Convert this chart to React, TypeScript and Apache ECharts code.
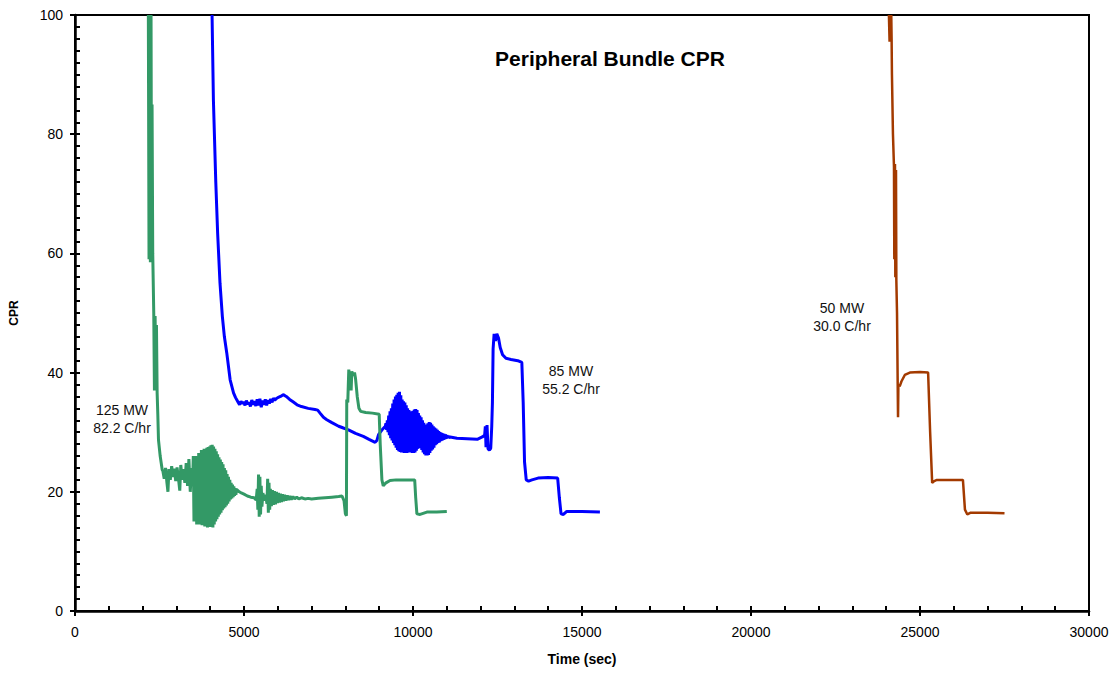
import React, { useEffect, useRef } from 'react';
import * as echarts from 'echarts';

const FONT = '"Liberation Sans", Arial, Helvetica, sans-serif';

const TITLE = 'Peripheral Bundle CPR';
const X_NAME = 'Time (sec)';
const Y_NAME = 'CPR';
const X_TICK_LABELS = [0, 5000, 10000, 15000, 20000, 25000, 30000];
const Y_TICK_LABELS = [0, 20, 40, 60, 80, 100];

const SERIES_NAMES = ['125 MW 82.2 C/hr', '85 MW 55.2 C/hr', '50 MW 30.0 C/hr'];
const SERIES_COLORS = ['#339966', '#0000FF', '#A33A00'];

// 125 MW, 82.2 C/hr  [time (s), CPR]
const green125: [number, number][] = [
  [2170, 100], [2190, 59], [2210, 100], [2230, 58.5], [2250, 100], [2265, 62], [2280, 85], [2300, 60],
  [2330, 50], [2350, 37], [2370, 49.5], [2390, 38], [2410, 48], [2430, 36.6], [2450, 33], [2470, 28.7],
  [2520, 26], [2580, 23.7],
  [2600, 23.5], [2640, 22.2], [2680, 24.0], [2720, 21.5], [2750, 20.0], [2780, 23.8], [2820, 22.0],
  [2860, 24.3], [2900, 22.5], [2940, 23.9], [2980, 21.8], [3020, 24.1], [3060, 22.3], [3100, 20.2],
  [3130, 24.5], [3170, 22.0], [3210, 23.8], [3250, 21.5], [3290, 24.8], [3330, 21.0], [3370, 25.5],
  [3410, 20.0], [3450, 24.0], [3480, 21.5],
  [3500, 26.0], [3520, 15.0], [3540, 25.0], [3560, 17.0], [3580, 26.0], [3600, 14.5], [3620, 26.0],
  [3640, 16.5], [3660, 26.5], [3680, 14.5], [3700, 26.5], [3720, 15.5], [3740, 27.0], [3760, 14.4],
  [3780, 26.8], [3800, 15.0], [3820, 27.2], [3840, 14.2], [3860, 27.0], [3880, 14.8], [3900, 27.4],
  [3920, 14.0], [3940, 27.5], [3960, 14.5], [3980, 27.6], [4000, 14.1], [4020, 27.8], [4040, 14.4],
  [4060, 27.9], [4080, 14.0], [4100, 27.6], [4120, 14.5], [4140, 27.2], [4160, 15.0], [4180, 26.8],
  [4200, 15.4], [4220, 26.3], [4240, 15.8], [4260, 25.8], [4280, 16.2], [4300, 25.4], [4320, 16.5],
  [4340, 25.0], [4360, 16.9], [4380, 24.6], [4400, 17.2], [4420, 24.0], [4440, 17.4], [4460, 23.6],
  [4480, 17.7], [4500, 23.0], [4520, 18.0], [4540, 22.5], [4560, 18.4], [4580, 22.0], [4600, 18.7],
  [4620, 21.5], [4640, 18.9], [4660, 21.2], [4680, 19.1], [4700, 20.9], [4720, 19.3], [4740, 20.6],
  [4760, 19.5], [4780, 20.4],
  [4820, 20.2], [4860, 20.0], [4920, 19.8], [5000, 19.6], [5100, 19.3], [5200, 19.1], [5300, 19.0],
  [5360, 18.6], [5390, 20.5], [5410, 17.0], [5430, 22.9], [5450, 15.8], [5470, 22.5], [5490, 16.2],
  [5510, 21.0], [5530, 17.5], [5560, 19.8], [5600, 18.5], [5640, 19.5], [5680, 18.0], [5700, 22.2],
  [5720, 16.5], [5740, 21.5], [5760, 17.0], [5780, 20.5], [5810, 17.6], [5840, 20.3], [5870, 17.8],
  [5900, 20.1], [5930, 17.9], [5960, 20.0], [5990, 18.1], [6020, 19.8], [6050, 18.2], [6080, 19.7],
  [6110, 18.3], [6140, 19.6], [6170, 18.4], [6200, 19.5], [6240, 18.5], [6280, 19.4], [6320, 18.6],
  [6360, 19.3], [6400, 18.7], [6450, 19.2], [6500, 18.8], [6560, 19.1], [6620, 18.8], [6700, 19.0],
  [6800, 18.8], [6900, 18.9], [7000, 18.8], [7200, 18.9], [7400, 19.0], [7600, 19.1], [7800, 19.2],
  [7900, 19.3], [7960, 18.5], [8000, 16.3], [8030, 16.0], [8040, 35.5], [8070, 35.0], [8100, 40.5],
  [8140, 39.0], [8170, 37.0], [8190, 40.2], [8230, 39.5], [8270, 40.0], [8300, 39.0], [8350, 36.0],
  [8400, 34.0], [8450, 33.5], [8600, 33.3], [8800, 33.2], [9000, 33.0], [9030, 28.0], [9080, 22.0],
  [9120, 21.0], [9200, 21.5], [9320, 21.9], [9500, 22.0], [9800, 22.0], [10050, 22.0], [10080, 19.0],
  [10115, 16.3], [10210, 16.2], [10410, 16.6], [10700, 16.6], [11000, 16.7],
];

// 85 MW, 55.2 C/hr
const blue85: [number, number][] = [
  [4055, 100], [4095, 85.7], [4165, 72], [4220, 63.4], [4290, 55], [4360, 49.4], [4420, 46],
  [4490, 43.3], [4590, 38.8], [4690, 36.6], [4750, 35.8],
  [4790, 35.4], [4830, 35.0], [4870, 34.6], [4910, 35.2], [4950, 34.8], [4990, 35.1], [5030, 34.5],
  [5070, 35.3], [5110, 34.7], [5150, 35.0], [5190, 34.3], [5230, 35.4], [5270, 34.6], [5310, 35.2],
  [5350, 34.4], [5390, 35.5], [5430, 34.5], [5470, 35.6], [5510, 34.2], [5550, 35.3], [5590, 34.6],
  [5630, 35.5], [5670, 34.5], [5710, 35.4], [5750, 34.8], [5790, 35.6], [5830, 35.0], [5870, 35.7],
  [5910, 35.4], [5950, 35.6], [6000, 35.8], [6080, 36.0], [6160, 36.3], [6250, 36.0], [6350, 35.5],
  [6450, 35.1], [6570, 34.6], [6700, 34.3], [6900, 34.0], [7100, 33.8], [7180, 33.7], [7250, 33.2],
  [7350, 32.5], [7450, 32.1], [7600, 31.6], [7800, 31.0], [7940, 30.7], [8090, 30.4], [8300, 29.8],
  [8530, 29.3], [8700, 28.8], [8880, 28.3], [8930, 28.6], [8980, 29.6], [9100, 30.5], [9180, 31.0],
  [9200, 31.5], [9220, 30.4], [9240, 32.0], [9260, 30.0], [9280, 32.8], [9300, 29.5], [9320, 33.5],
  [9340, 29.0], [9360, 34.0], [9380, 28.6], [9400, 34.8], [9420, 28.2], [9440, 35.5], [9460, 27.8],
  [9480, 36.0], [9500, 27.4], [9520, 36.3], [9540, 27.0], [9560, 36.6], [9580, 26.8], [9600, 36.8],
  [9620, 26.7], [9640, 36.2], [9660, 26.6], [9680, 35.5], [9700, 26.6], [9720, 35.2], [9740, 26.5],
  [9760, 35.0], [9780, 26.5], [9800, 34.5], [9820, 26.5], [9840, 34.0], [9860, 26.6], [9880, 33.7],
  [9900, 26.7], [9920, 33.5], [9940, 26.6], [9960, 33.4], [9980, 26.5], [10000, 33.6], [10020, 26.5],
  [10040, 33.8], [10060, 26.6], [10080, 33.9], [10100, 26.9], [10120, 33.7], [10140, 27.2],
  [10160, 33.2], [10180, 27.4], [10200, 32.8], [10220, 27.3], [10240, 32.5], [10260, 27.0],
  [10280, 32.0], [10300, 26.6], [10320, 31.6], [10340, 26.3], [10360, 31.3], [10380, 26.1],
  [10400, 31.2], [10420, 26.1], [10440, 31.5], [10460, 26.2], [10480, 31.7], [10500, 26.5],
  [10520, 31.6], [10540, 26.9], [10560, 31.3], [10580, 27.1], [10600, 31.0], [10620, 27.4],
  [10640, 30.8], [10660, 27.8], [10680, 30.6], [10700, 28.0], [10720, 30.4], [10740, 28.2],
  [10760, 30.2], [10780, 28.3], [10800, 30.0], [10820, 28.5], [10840, 29.9], [10860, 28.6],
  [10880, 29.8], [10900, 28.7], [10920, 29.7], [10940, 28.8], [10960, 29.6], [10980, 28.9],
  [11000, 29.5], [11020, 29.0], [11040, 29.4], [11060, 29.1],
  [11100, 29.2], [11300, 29.0], [11600, 28.9], [11900, 28.8], [12050, 29.2], [12120, 29.5],
  [12140, 31.0], [12160, 27.5], [12190, 31.2], [12220, 27.2], [12260, 27.0], [12300, 27.3],
  [12330, 31.0], [12350, 35.0], [12370, 44.0], [12400, 46.5], [12440, 45.3], [12480, 46.5],
  [12530, 45.8], [12580, 44.2], [12650, 43.0], [12750, 42.4], [12900, 42.2], [13100, 42.0],
  [13220, 41.7], [13260, 35.0], [13300, 25.0], [13350, 22.0], [13420, 21.8], [13520, 22.0],
  [13700, 22.3], [14000, 22.4], [14280, 22.3], [14330, 19.0], [14380, 16.3], [14450, 16.2],
  [14550, 16.7], [15000, 16.7], [15530, 16.6],
];

// 50 MW, 30.0 C/hr
const brown50: [number, number][] = [
  [24080, 100], [24100, 95.5], [24110, 100], [24130, 95.5], [24150, 100], [24160, 96], [24170, 90],
  [24200, 80], [24230, 74.5], [24240, 59], [24260, 75], [24270, 56], [24290, 74], [24300, 55.5],
  [24320, 50], [24340, 38], [24350, 32.5], [24360, 38], [24400, 37.7], [24450, 38.5], [24550, 39.6],
  [24700, 40], [25000, 40.1], [25240, 40], [25300, 30], [25360, 21.5], [25420, 21.8], [25500, 22],
  [26000, 22], [26270, 22], [26330, 17], [26400, 16.2], [26500, 16.5], [27000, 16.5], [27500, 16.4],
];

const ANNOTATIONS = [
  { text: '125 MW\n82.2 C/hr', x: 122, y: 419 },
  { text: '85 MW\n55.2 C/hr', x: 571, y: 380 },
  { text: '50 MW\n30.0 C/hr', x: 842, y: 317 },
];

export default function App() {
  const ref = useRef<HTMLDivElement>(null);

  useEffect(() => {
    if (!ref.current) return;
    const chart = echarts.init(ref.current, undefined, { renderer: 'svg' });
    const gridRect = { left: 75, top: 15, right: 30, bottom: 62 };
    const seriesData = [green125, blue85, brown50];

    const option: any = {
      animation: false,
      backgroundColor: '#ffffff',
      grid: [
        { ...gridRect, show: true, borderColor: '#000', borderWidth: 2, backgroundColor: 'transparent' },
        { ...gridRect, show: false },
      ],
      xAxis: [
        {
          gridIndex: 0,
          type: 'value',
          min: 0,
          max: 30000,
          interval: 1000,
          axisLine: { show: true, lineStyle: { color: '#000', width: 2.5 } },
          axisTick: { show: true, inside: true, length: 5, lineStyle: { color: '#000', width: 2 } },
          axisLabel: {
            margin: 14,
            color: '#000',
            fontFamily: FONT,
            fontSize: 14,
            formatter: (v: number) => (X_TICK_LABELS.includes(v) ? String(v) : ''),
          },
          splitLine: { show: false },
          name: X_NAME,
          nameLocation: 'middle',
          nameGap: 41,
          nameTextStyle: { fontFamily: FONT, fontSize: 14, fontWeight: 'bold', color: '#000' },
        },
        {
          gridIndex: 1,
          type: 'value',
          min: 0,
          max: 30000,
          interval: 5000,
          axisLine: { show: false },
          axisTick: { show: true, inside: false, length: 5, lineStyle: { color: '#000', width: 2 } },
          axisLabel: { show: false },
          splitLine: { show: false },
        },
      ],
      yAxis: [
        {
          gridIndex: 0,
          type: 'value',
          min: 0,
          max: 100,
          interval: 2,
          axisLine: { show: true, lineStyle: { color: '#000', width: 2.5 } },
          axisTick: { show: true, inside: true, length: 5, lineStyle: { color: '#000', width: 2 } },
          axisLabel: {
            margin: 12,
            color: '#000',
            fontFamily: FONT,
            fontSize: 14,
            formatter: (v: number) => (Y_TICK_LABELS.includes(v) ? String(v) : ''),
          },
          splitLine: { show: false },
          name: Y_NAME,
          nameLocation: 'middle',
          nameGap: 55,
          nameTextStyle: { fontFamily: FONT, fontSize: 12, fontWeight: 'bold', color: '#000' },
        },
        {
          gridIndex: 1,
          type: 'value',
          min: 0,
          max: 100,
          interval: 20,
          axisLine: { show: false },
          axisTick: { show: true, inside: false, length: 5, lineStyle: { color: '#000', width: 2 } },
          axisLabel: { show: false },
          splitLine: { show: false },
        },
      ],
      series: seriesData.map((data, i) => ({
        name: SERIES_NAMES[i],
        type: 'line',
        xAxisIndex: 0,
        yAxisIndex: 0,
        data,
        showSymbol: false,
        symbol: 'none',
        clip: true,
        lineStyle: { color: SERIES_COLORS[i], width: i === 2 ? 2.5 : 3 },
        itemStyle: { color: SERIES_COLORS[i] },
        z: 3 - i,
      })),
      graphic: [
        {
          type: 'text',
          x: 610,
          y: 58,
          style: {
            text: TITLE,
            align: 'center',
            verticalAlign: 'middle',
            fill: '#000',
            font: `bold 21px ${FONT}`,
          },
        },
        ...ANNOTATIONS.map((a) => ({
          type: 'text',
          x: a.x,
          y: a.y,
          style: {
            text: a.text,
            align: 'center',
            verticalAlign: 'middle',
            fill: '#111',
            font: `14px ${FONT}`,
            lineHeight: 18,
          },
        })),
      ],
    };

    chart.setOption(option);
    return () => chart.dispose();
  }, []);

  return (
    <div
      ref={ref}
      style={{ position: 'absolute', left: 0, top: 0, width: 1119, height: 673, background: '#fff' }}
    />
  );
}
